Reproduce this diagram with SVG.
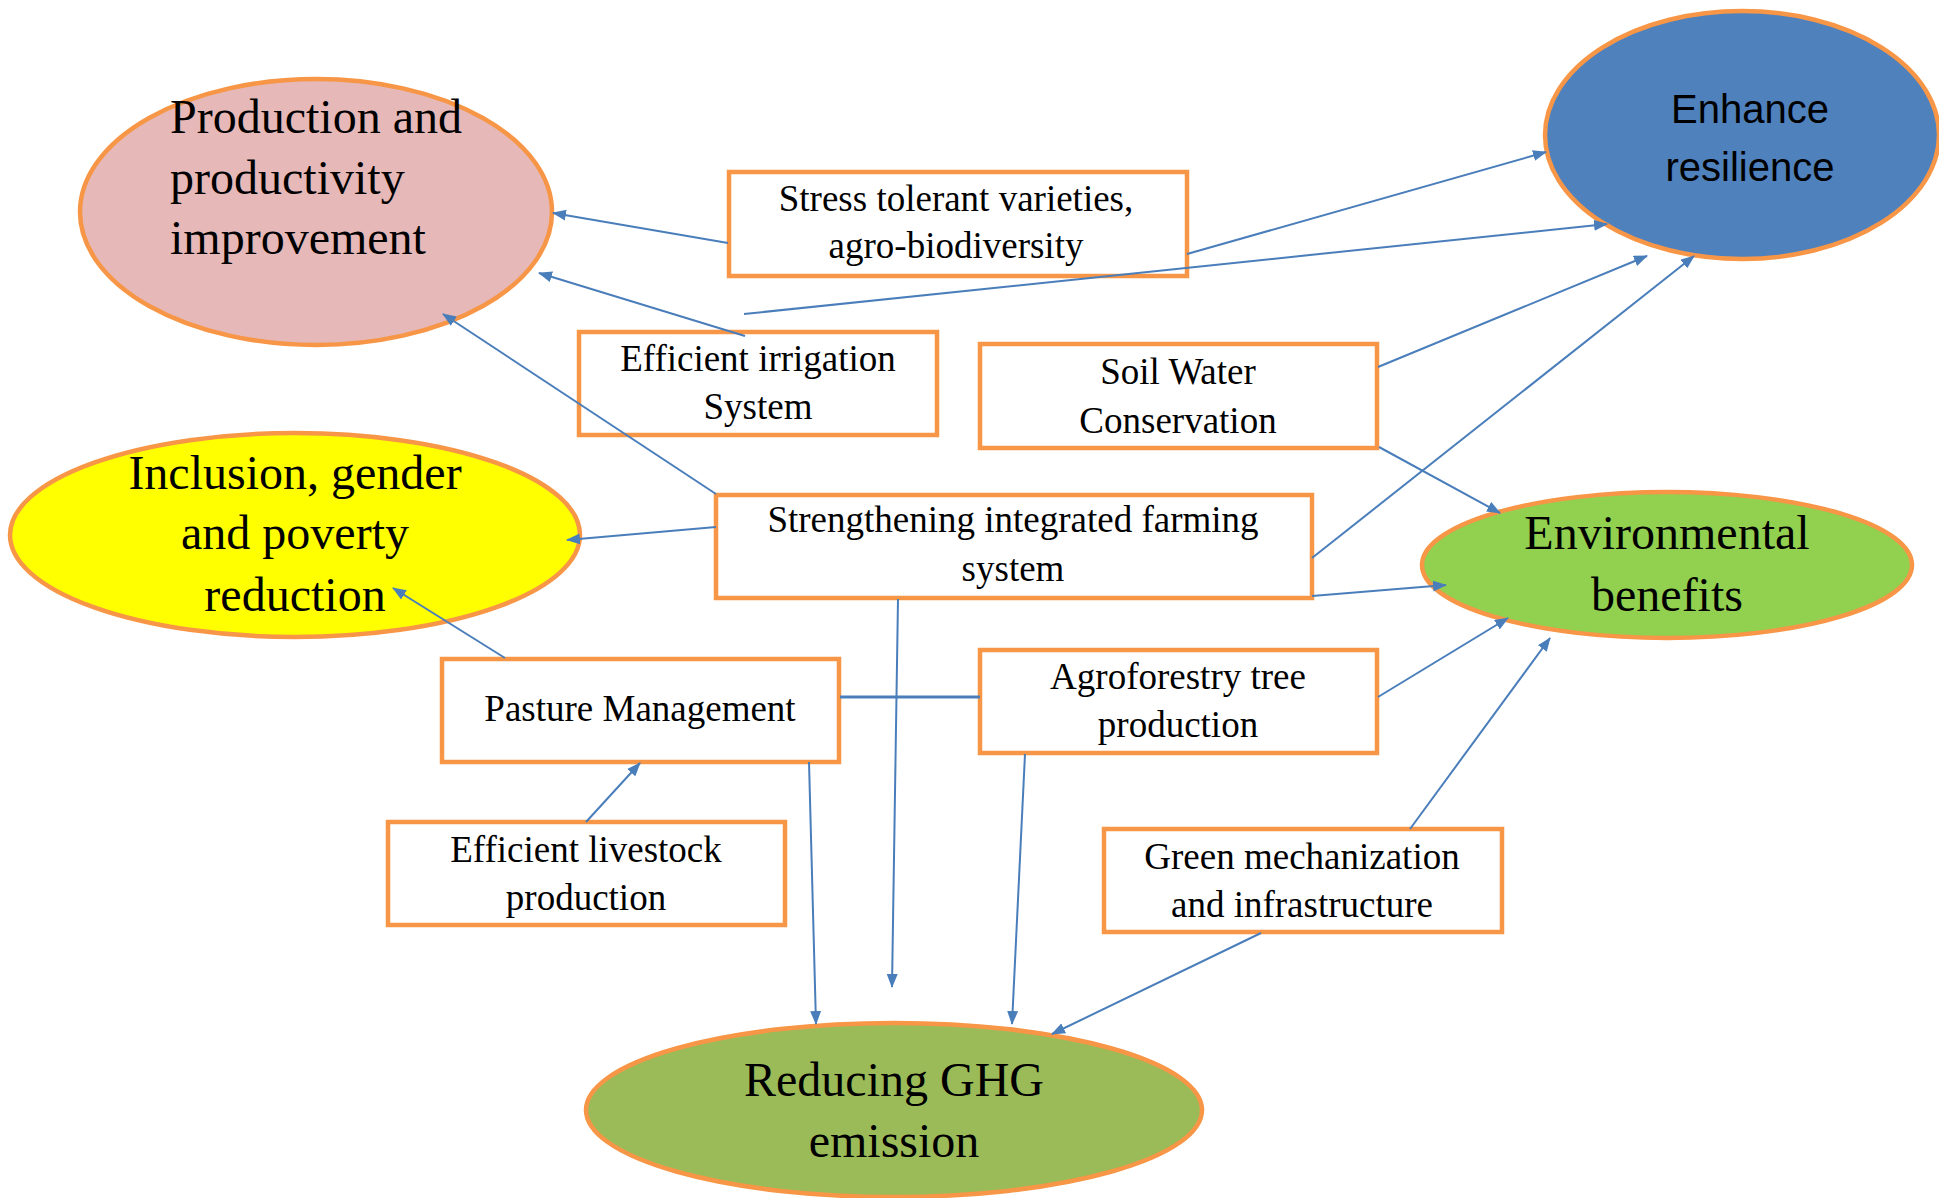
<svg xmlns="http://www.w3.org/2000/svg" width="1939" height="1198" viewBox="0 0 1939 1198">
<style>
.ell{stroke:#F79646;stroke-width:4.5}
.box{fill:#FFFFFF;stroke:#F79646;stroke-width:4.5}
.big{font-family:"Liberation Serif","Times New Roman",serif;font-size:48px;fill:#000}
.lbl{font-family:"Liberation Serif","Times New Roman",serif;font-size:37px;fill:#000;text-anchor:middle}
.sans{font-family:"Liberation Sans",Arial,sans-serif;font-size:40px;fill:#000;text-anchor:middle}
.c{text-anchor:middle}
.con line{stroke:#4A7EBB;stroke-width:2;fill:none}
.con line.arr{marker-end:url(#ah)}
</style>
<defs>
<marker id="ah" viewBox="0 0 14 11" refX="13" refY="5.5" markerWidth="14" markerHeight="11" markerUnits="userSpaceOnUse" orient="auto">
<path d="M0,0 L14,5.5 L0,11 z" fill="#4A7EBB"/>
</marker>
</defs>
<rect width="1939" height="1198" fill="#FFFFFF"/>

<g id="production">
<ellipse class="ell" cx="316" cy="212" rx="236" ry="133" fill="#E6B8B7"/>
<text class="big" x="170" y="133">Production and</text>
<text class="big" x="170" y="194">productivity</text>
<text class="big" x="170" y="254">improvement</text>
</g>

<g id="resilience">
<ellipse class="ell" cx="1742" cy="135" rx="197" ry="124" fill="#4F81BD"/>
<text class="sans" x="1750" y="123">Enhance</text>
<text class="sans" x="1750" y="181">resilience</text>
</g>

<g id="inclusion">
<ellipse class="ell" cx="295" cy="535" rx="285" ry="102" fill="#FFFF00"/>
<text class="big c" x="295" y="489">Inclusion, gender</text>
<text class="big c" x="295" y="549">and poverty</text>
<text class="big c" x="295" y="611">reduction</text>
</g>

<g id="environmental">
<ellipse class="ell" cx="1667" cy="565" rx="245" ry="73" fill="#92D050"/>
<text class="big c" x="1667" y="549">Environmental</text>
<text class="big c" x="1667" y="611">benefits</text>
</g>

<g id="ghg">
<ellipse class="ell" cx="894" cy="1110" rx="308" ry="87" fill="#9BBB59"/>
<text class="big c" x="894" y="1096">Reducing GHG</text>
<text class="big c" x="894" y="1157">emission</text>
</g>

<g id="stress">
<rect class="box" x="729" y="172" width="458" height="104"/>
<text class="lbl" x="956" y="211">Stress tolerant varieties,</text>
<text class="lbl" x="956" y="258">agro-biodiversity</text>
</g>

<g id="irrigation">
<rect class="box" x="579" y="332" width="358" height="103"/>
<text class="lbl" x="758" y="371">Efficient irrigation</text>
<text class="lbl" x="758" y="419">System</text>
</g>

<g id="soilwater">
<rect class="box" x="980" y="344" width="397" height="104"/>
<text class="lbl" x="1178" y="384">Soil Water</text>
<text class="lbl" x="1178" y="433">Conservation</text>
</g>

<g id="ifs">
<rect class="box" x="716" y="495" width="596" height="103"/>
<text class="lbl" x="1013" y="532">Strengthening integrated farming</text>
<text class="lbl" x="1013" y="581">system</text>
</g>

<g id="pasture">
<rect class="box" x="442" y="659" width="397" height="103"/>
<text class="lbl" x="640" y="721">Pasture Management</text>
</g>

<g id="agroforestry">
<rect class="box" x="980" y="650" width="397" height="103"/>
<text class="lbl" x="1178" y="689">Agroforestry tree</text>
<text class="lbl" x="1178" y="737">production</text>
</g>

<g id="livestock">
<rect class="box" x="388" y="822" width="397" height="103"/>
<text class="lbl" x="586" y="862">Efficient livestock</text>
<text class="lbl" x="586" y="910">production</text>
</g>

<g id="mechanization">
<rect class="box" x="1104" y="829" width="398" height="103"/>
<text class="lbl" x="1302" y="869">Green mechanization</text>
<text class="lbl" x="1302" y="917">and infrastructure</text>
</g>

<g id="connectors" class="con">
<line class="arr" x1="728" y1="243" x2="553" y2="213"/>
<line class="arr" x1="745" y1="336" x2="539" y2="273"/>
<line class="arr" x1="716" y1="494" x2="443" y2="314"/>
<line class="arr" x1="1187" y1="254" x2="1546" y2="152"/>
<line class="arr" x1="744" y1="314" x2="1607" y2="224"/>
<line class="arr" x1="1378" y1="367" x2="1647" y2="256"/>
<line class="arr" x1="1312" y1="558" x2="1694" y2="256"/>
<line class="arr" x1="1379" y1="447" x2="1500" y2="513"/>
<line class="arr" x1="1312" y1="596" x2="1446" y2="585"/>
<line class="arr" x1="716" y1="527" x2="567" y2="540"/>
<line class="arr" x1="505" y1="658" x2="393" y2="588"/>
<line class="arr" x1="898" y1="599" x2="892" y2="987"/>
<line class="arr" x1="809" y1="762" x2="816" y2="1024"/>
<line class="arr" x1="1025" y1="754" x2="1012" y2="1024"/>
<line class="arr" x1="1261" y1="933" x2="1052" y2="1034"/>
<line class="arr" x1="1378" y1="697" x2="1508" y2="618"/>
<line class="arr" x1="1410" y1="829" x2="1550" y2="638"/>
<line x1="840" y1="697" x2="980" y2="697" style="stroke-width:3"/>
<line class="arr" x1="586" y1="822" x2="640" y2="763"/>
</g>
</svg>
